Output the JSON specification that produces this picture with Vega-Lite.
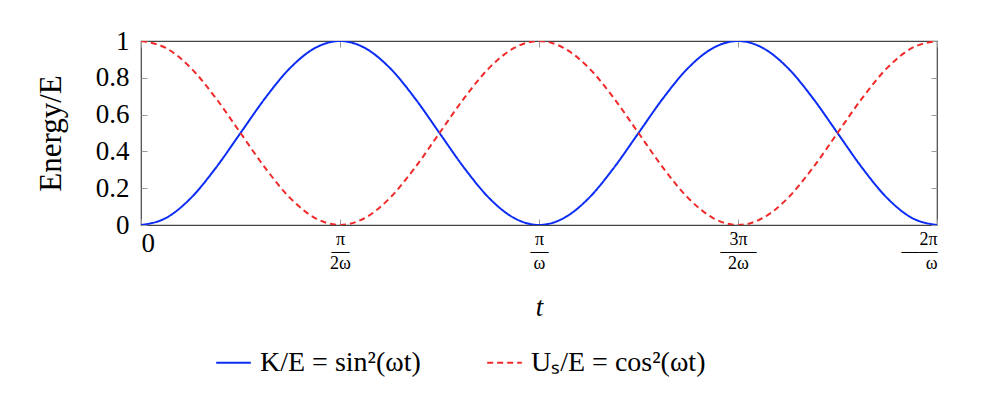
{
  "$schema": "https://vega.github.io/schema/vega-lite/v6.json",
  "width": 796,
  "height": 184,
  "autosize": {"type": "none"},
  "padding": {"left": 141, "top": 41, "right": 61, "bottom": 185},
  "background": "white",
  "config": {
    "font": "Liberation Serif",
    "view": {"stroke": "#444444", "strokeWidth": 1.2}
  },
  "data": {
    "values": [
      {"t": 0, "e": 0, "s": "K"}, {"t": 0.125, "e": 0.038, "s": "K"}, {"t": 0.25, "e": 0.146, "s": "K"}, {"t": 0.375, "e": 0.309, "s": "K"},
      {"t": 0.5, "e": 0.5, "s": "K"}, {"t": 0.625, "e": 0.691, "s": "K"}, {"t": 0.75, "e": 0.854, "s": "K"}, {"t": 0.875, "e": 0.962, "s": "K"},
      {"t": 1, "e": 1, "s": "K"}, {"t": 1.125, "e": 0.962, "s": "K"}, {"t": 1.25, "e": 0.854, "s": "K"}, {"t": 1.375, "e": 0.691, "s": "K"},
      {"t": 1.5, "e": 0.5, "s": "K"}, {"t": 1.625, "e": 0.309, "s": "K"}, {"t": 1.75, "e": 0.146, "s": "K"}, {"t": 1.875, "e": 0.038, "s": "K"},
      {"t": 2, "e": 0, "s": "K"}, {"t": 2.125, "e": 0.038, "s": "K"}, {"t": 2.25, "e": 0.146, "s": "K"}, {"t": 2.375, "e": 0.309, "s": "K"},
      {"t": 2.5, "e": 0.5, "s": "K"}, {"t": 2.625, "e": 0.691, "s": "K"}, {"t": 2.75, "e": 0.854, "s": "K"}, {"t": 2.875, "e": 0.962, "s": "K"},
      {"t": 3, "e": 1, "s": "K"}, {"t": 3.125, "e": 0.962, "s": "K"}, {"t": 3.25, "e": 0.854, "s": "K"}, {"t": 3.375, "e": 0.691, "s": "K"},
      {"t": 3.5, "e": 0.5, "s": "K"}, {"t": 3.625, "e": 0.309, "s": "K"}, {"t": 3.75, "e": 0.146, "s": "K"}, {"t": 3.875, "e": 0.038, "s": "K"},
      {"t": 4, "e": 0, "s": "K"},
      {"t": 0, "e": 1, "s": "U"}, {"t": 0.125, "e": 0.962, "s": "U"}, {"t": 0.25, "e": 0.854, "s": "U"}, {"t": 0.375, "e": 0.691, "s": "U"},
      {"t": 0.5, "e": 0.5, "s": "U"}, {"t": 0.625, "e": 0.309, "s": "U"}, {"t": 0.75, "e": 0.146, "s": "U"}, {"t": 0.875, "e": 0.038, "s": "U"},
      {"t": 1, "e": 0, "s": "U"}, {"t": 1.125, "e": 0.038, "s": "U"}, {"t": 1.25, "e": 0.146, "s": "U"}, {"t": 1.375, "e": 0.309, "s": "U"},
      {"t": 1.5, "e": 0.5, "s": "U"}, {"t": 1.625, "e": 0.691, "s": "U"}, {"t": 1.75, "e": 0.854, "s": "U"}, {"t": 1.875, "e": 0.962, "s": "U"},
      {"t": 2, "e": 1, "s": "U"}, {"t": 2.125, "e": 0.962, "s": "U"}, {"t": 2.25, "e": 0.854, "s": "U"}, {"t": 2.375, "e": 0.691, "s": "U"},
      {"t": 2.5, "e": 0.5, "s": "U"}, {"t": 2.625, "e": 0.309, "s": "U"}, {"t": 2.75, "e": 0.146, "s": "U"}, {"t": 2.875, "e": 0.038, "s": "U"},
      {"t": 3, "e": 0, "s": "U"}, {"t": 3.125, "e": 0.038, "s": "U"}, {"t": 3.25, "e": 0.146, "s": "U"}, {"t": 3.375, "e": 0.309, "s": "U"},
      {"t": 3.5, "e": 0.5, "s": "U"}, {"t": 3.625, "e": 0.691, "s": "U"}, {"t": 3.75, "e": 0.854, "s": "U"}, {"t": 3.875, "e": 0.962, "s": "U"},
      {"t": 4, "e": 1, "s": "U"}
    ]
  },
  "layer": [
    {
      "mark": {"type": "line", "interpolate": "monotone", "strokeWidth": 2, "clip": true},
      "encoding": {
        "x": {
          "field": "t", "type": "quantitative",
          "scale": {"domain": [0, 4], "nice": false, "zero": false},
          "axis": {
            "orient": "bottom", "values": [0, 1, 2, 3, 4], "grid": false, "domain": false,
            "ticks": true, "tickSize": -6, "tickColor": "#999999", "tickWidth": 1,
            "labelExpr": "datum.value == 0 ? '0' : datum.value == 1 ? ['π', '—', '2ω'] : datum.value == 2 ? ['π', '—', 'ω'] : datum.value == 3 ? ['3π', '——', '2ω'] : ['2π', '——', 'ω']",
            "labelFont": "Liberation Serif",
            "labelFontSize": {"condition": {"test": "datum.value == 0", "value": 27}, "value": 18},
            "labelColor": "#000000", "labelPadding": 11, "labelLineHeight": 12,
            "title": "t", "titleFontStyle": "italic", "titleFontWeight": "normal",
            "titleFontSize": 27, "titleColor": "#000000", "titlePadding": 22
          }
        },
        "y": {
          "field": "e", "type": "quantitative",
          "scale": {"domain": [0, 1], "nice": false},
          "axis": {
            "orient": "left", "values": [0, 0.2, 0.4, 0.6, 0.8, 1], "format": "~g", "grid": false, "domain": false,
            "ticks": true, "tickSize": -6, "tickColor": "#999999", "tickWidth": 1,
            "labelFontSize": 27, "labelColor": "#000000", "labelPadding": 18,
            "title": "Energy/E", "titleFontWeight": "normal", "titleFontSize": 31,
            "titleColor": "#000000", "titlePadding": 28
          }
        },
        "color": {
          "field": "s", "type": "nominal",
          "scale": {"domain": ["K", "U"], "range": ["#0a2cf5", "#f02a2a"]},
          "legend": {
            "orient": "none", "legendX": 74, "legendY": 303, "direction": "horizontal",
            "title": null, "symbolType": "stroke", "symbolSize": 1200, "symbolStrokeWidth": 2,
            "labelFontSize": 28, "labelColor": "#000000", "labelOffset": 8, "columnPadding": 62,
            "labelLimit": 400,
            "labelExpr": "datum.value == 'K' ? 'K/E = sin²(ωt)' : 'Uₛ/E = cos²(ωt)'"
          }
        },
        "strokeDash": {
          "field": "s", "type": "nominal",
          "scale": {"domain": ["K", "U"], "range": [[1, 0], [6, 4]]},
          "legend": {
            "orient": "none", "legendX": 74, "legendY": 303, "direction": "horizontal",
            "title": null, "symbolType": "stroke", "symbolSize": 1200, "symbolStrokeWidth": 2,
            "labelFontSize": 28, "labelColor": "#000000", "labelOffset": 8, "columnPadding": 62,
            "labelLimit": 400,
            "labelExpr": "datum.value == 'K' ? 'K/E = sin²(ωt)' : 'Uₛ/E = cos²(ωt)'"
          }
        }
      }
    },
    {
      "mark": {"type": "point", "opacity": 0},
      "encoding": {
        "x": {
          "field": "t", "type": "quantitative",
          "scale": {"domain": [0, 4], "nice": false, "zero": false},
          "axis": {
            "orient": "top", "values": [0, 1, 2, 3, 4], "grid": false, "domain": false, "labels": false,
            "tickSize": -6, "tickColor": "#999999", "tickWidth": 1, "title": null
          }
        },
        "y": {
          "field": "e", "type": "quantitative",
          "scale": {"domain": [0, 1], "nice": false},
          "axis": {
            "orient": "right", "values": [0, 0.2, 0.4, 0.6, 0.8, 1], "grid": false, "domain": false, "labels": false,
            "tickSize": -6, "tickColor": "#999999", "tickWidth": 1, "title": null
          }
        }
      }
    }
  ],
  "resolve": {"axis": {"x": "independent", "y": "independent"}}
}
